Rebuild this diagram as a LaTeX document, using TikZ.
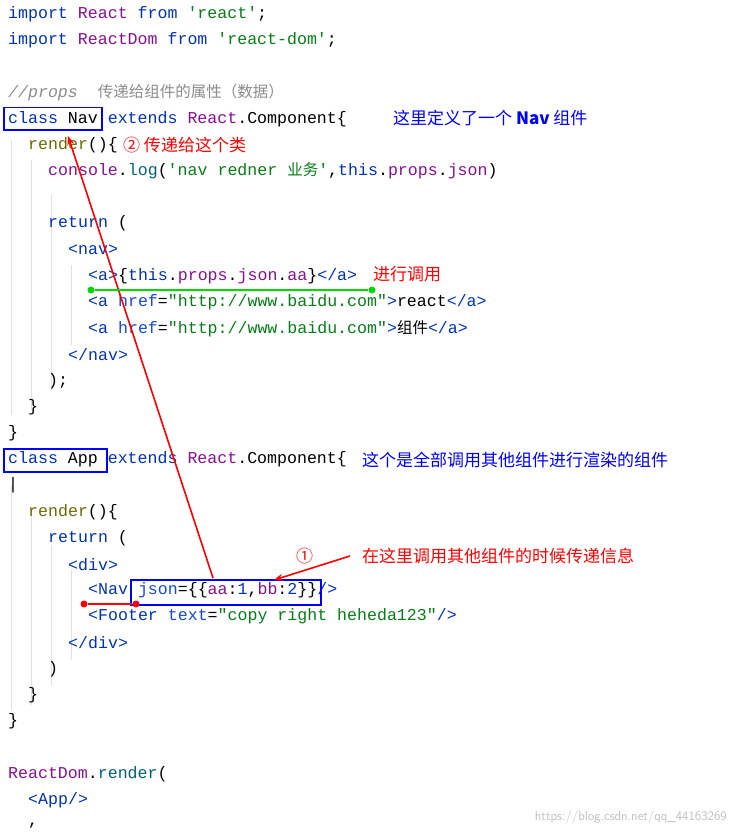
\documentclass[tikz,border=0pt]{standalone}
\usepackage{fontspec}
\usetikzlibrary{arrows.meta}
\setmonofont{Liberation Mono}
\newfontfamily\cjk{Noto Sans CJK SC}
\definecolor{kw}{HTML}{0033B3}
\definecolor{pu}{HTML}{871094}
\definecolor{st}{HTML}{067D17}
\definecolor{cm}{HTML}{8C8C8C}
\definecolor{fn}{HTML}{00627A}
\definecolor{at}{HTML}{174AD4}
\definecolor{rd}{HTML}{6B6B00}
\definecolor{ann}{HTML}{0000FF}
\newcommand\cK[1]{\textcolor{kw}{#1}}
\newcommand\cP[1]{\textcolor{pu}{#1}}
\newcommand\cS[1]{\textcolor{st}{#1}}
\newcommand\cF[1]{\textcolor{fn}{#1}}
\newcommand\cA[1]{\textcolor{at}{#1}}
\newcommand\cR[1]{\textcolor{rd}{#1}}
\newcommand\cj[1]{{\cjk\fontsize{15.5}{16}\selectfont #1}}
\begin{document}
\begin{tikzpicture}[x=1pt,y=-1pt,
  code/.style={anchor=west,inner sep=0pt,font=\ttfamily\fontsize{16.6}{18}\selectfont},
  note/.style={anchor=west,inner sep=0pt,font=\cjk\fontsize{17}{18}\selectfont},
  hbox/.style={draw=ann,line width=1.6pt},
  redarr/.style={draw=red,line width=1.6pt,-{Stealth[length=9pt,width=7pt]}},
  dot/.style={circle,inner sep=0pt,minimum size=7pt}]
\useasboundingbox (0,0) rectangle (735,835);
\fill[white] (0,0) rectangle (735,835);
% indentation guides
\foreach \x/\a/\b in {8/140/415, 28/160/410, 48/195/390, 68/265/345, 8/485/710, 28/510/705, 48/545/685, 68/570/660}
  \draw[black!12,line width=0.6pt] (\x+3,\a) -- (\x+3,\b);
\newcommand\cl[3]{\node[code] at (8+10*#1,14+26.2*#2) {#3};}
\cl{0}{0}{\cK{import} \cP{React} \cK{from} \cS{'react'};}
\cl{0}{1}{\cK{import} \cP{ReactDom} \cK{from} \cS{'react-dom'};}
\cl{0}{3}{\textcolor{cm}{\itshape //props~~\cj{传递给组件的属性（数据）}}}
\cl{0}{4}{\cK{class} Nav \cK{extends} \cP{React}.Component\{}
\cl{2}{5}{\cR{render}()\{}
\cl{4}{6}{\cP{console}.\cF{log}(\cS{'nav redner \cj{业务}'},\cK{this}.\cP{props}.\cP{json})}
\cl{4}{8}{\cK{return} (}
\cl{6}{9}{\cK{<nav>}}
\cl{8}{10}{\cK{<a>}\{\cK{this}.\cP{props}.\cP{json}.\cP{aa}\}\cK{</a>}}
\cl{8}{11}{\cK{<a} \cA{href}=\cS{"http://www.baidu.com"}\cK{>}react\cK{</a>}}
\cl{8}{12}{\cK{<a} \cA{href}=\cS{"http://www.baidu.com"}\cK{>}\cj{组件}\cK{</a>}}
\cl{6}{13}{\cK{</nav>}}
\cl{4}{14}{);}
\cl{2}{15}{\}}
\cl{0}{16}{\}}
\cl{0}{17}{\cK{class} App \cK{extends} \cP{React}.Component\{}
\cl{0}{18}{|}
\cl{2}{19}{\cR{render}()\{}
\cl{4}{20}{\cK{return} (}
\cl{6}{21}{\cK{<div>}}
\cl{8}{22}{\cK{<Nav} \cA{json}=\{\{\cP{aa}:\cK{1},\cP{bb}:\cK{2}\}\}\cK{/>}}
\cl{8}{23}{\cK{<Footer} \cA{text}=\cS{"copy right heheda123"}\cK{/>}}
\cl{6}{24}{\cK{</div>}}
\cl{4}{25}{)}
\cl{2}{26}{\}}
\cl{0}{27}{\}}
\cl{0}{29}{\cP{ReactDom}.\cF{render}(}
\cl{2}{30}{\cK{<App/>}}
\cl{2}{31}{,}
% annotations
\node[note,text=ann] (n1) at (393,118) {这里定义了一个 \textbf{Nav} 组件};
\node[note,text=red] (n2) at (123,145) {② 传递给这个类};
\node[note,text=red] (n3) at (373,274) {进行调用};
\node[note,text=ann] (n4) at (362,460) {这个是全部调用其他组件进行渲染的组件};
\node[note,text=red] (n5) at (296,556) {①};
\node[note,text=red] (n6) at (362,556) {在这里调用其他组件的时候传递信息};
% boxes
\draw[hbox] (4,107.5) rectangle (102,130);
\draw[hbox] (4,449) rectangle (107,472);
\draw[hbox] (131,580) rectangle (321,605);
% arrows
\coordinate (a1) at (213,578); \coordinate (b1) at (68,136);
\draw[redarr] (a1) -- (b1);
\coordinate (a2) at (350,556); \coordinate (b2) at (274,580);
\draw[redarr] (a2) -- (b2);
% dot lines
\node[dot,fill=green!85!black] (g1) at (91,290) {};
\node[dot,fill=green!85!black] (g2) at (372,290) {};
\draw[green!85!black,line width=1.6pt] (g1) -- (g2);
\node[dot,fill=red] (r1) at (84,604) {};
\node[dot,fill=red] (r2) at (136,604) {};
\draw[red,line width=1.6pt] (r1) -- (r2);
\node[anchor=east,inner sep=0pt,text=black!25,font=\sffamily\fontsize{13}{14}\selectfont] (wm) at (727,817) {https://blog.csdn.net/qq\_44163269};
\end{tikzpicture}
\end{document}
